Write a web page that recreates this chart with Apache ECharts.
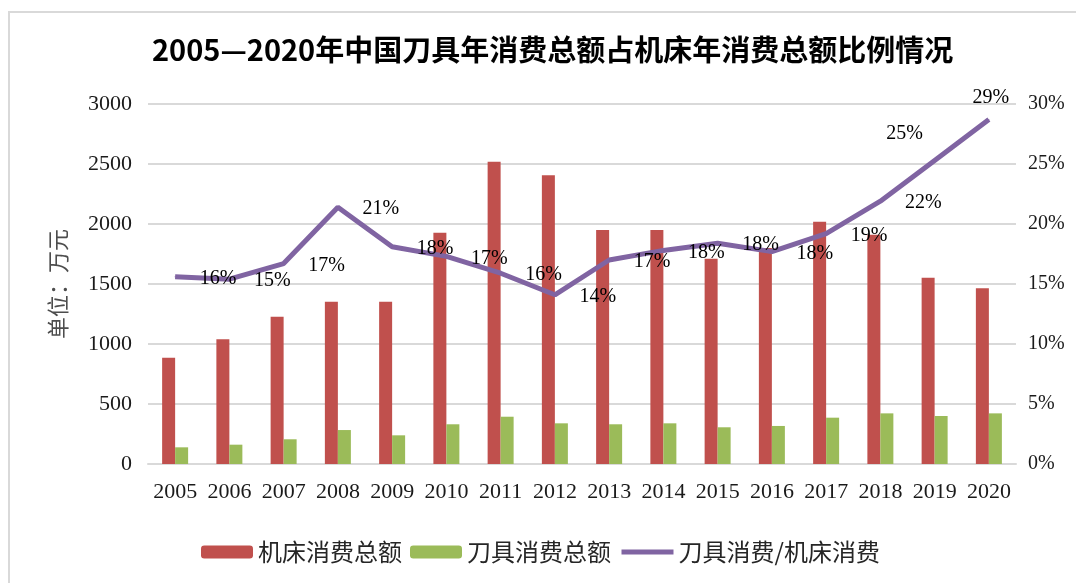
<!DOCTYPE html>
<html>
<head>
<meta charset="utf-8">
<script src="https://cdn.jsdelivr.net/npm/echarts@6/dist/echarts.min.js"></script>
<style>
  html, body { margin: 0; padding: 0; background: #fff; }
  #chart { width: 1076px; height: 583px; }
</style>
</head>
<body>
<div id="chart"></div>
<script>
// 年份
const years = ["2005", "2006", "2007", "2008", "2009", "2010", "2011", "2012",
  "2013", "2014", "2015", "2016", "2017", "2018", "2019", "2020"];
// 机床消费总额（万元）
const machineTotal = [886, 1040, 1228, 1353, 1353, 1928, 2519, 2406,
  1950, 1950, 1710, 1800, 2019, 1910, 1553, 1464];
// 刀具消费总额（万元）
const toolTotal = [139, 161, 206, 283, 239, 331, 394, 339,
  331, 339, 306, 317, 386, 422, 400, 422];
// 刀具消费/机床消费（%）
const ratio = [15.6, 15.4, 16.7, 21.4, 18.1, 17.3, 15.9, 14.1,
  17.0, 17.8, 18.4, 17.7, 19.2, 21.9, 25.3, 28.7];
const leftTicks = [0, 3000, 500];
const rightTicks = [0, 30, 5];

const serif = "'Liberation Serif', 'Noto Sans CJK SC', serif";
const cjk = "'Noto Sans CJK SC', sans-serif";

const chartDom = document.getElementById("chart");
const myChart = echarts.init(chartDom);

// labels in the source sit off to the right of their points
function labelShift(i) {
  if (i === ratio.length - 2) return [-30, -27];
  if (i === ratio.length - 1) return [2, -22];
  return [43, 2];
}

const option = {
  animation: false,
  title: {
    text: "2005—2020年中国刀具年消费总额占机床年消费总额比例情况",
    left: 147,
    top: 30,
    textStyle: {
      fontFamily: cjk,
      fontSize: 29,
      fontWeight: "bold",
      color: "#000",
    },
  },
  graphic: [
    {
      type: "rect",
      shape: { x: 9, y: 12, width: 1200, height: 700 },
      style: { fill: "none", stroke: "#d9d9d9", lineWidth: 2 },
      silent: true,
    },
  ],
  legend: {
    left: 196,
    top: 535,
    itemWidth: 52,
    itemHeight: 13,
    itemGap: 8,
    textStyle: { fontFamily: cjk, fontSize: 24, color: "#262626" },
    data: [
      { name: "机床消费总额" },
      { name: "刀具消费总额" },
      {
        name: "刀具消费/机床消费",
        itemStyle: { opacity: 0 },
        lineStyle: { width: 5, color: "#8064A2" },
      },
    ],
  },
  grid: {
    left: 148,
    right: 60,
    top: 104,
    bottom: 119,
    containLabel: false,
  },
  xAxis: {
    type: "category",
    data: years,
    axisLine: { lineStyle: { color: "#d9d9d9", width: 2 } },
    axisTick: { show: false },
    axisLabel: {
      fontFamily: serif,
      fontSize: 22,
      color: "#1a1a1a",
      margin: 17,
      interval: 0,
    },
  },
  yAxis: [
    {
      type: "value",
      min: leftTicks[0],
      max: leftTicks[1],
      interval: leftTicks[2],
      name: "单位：万元",
      nameLocation: "middle",
      nameRotate: 90,
      nameGap: 79,
      nameTextStyle: { fontFamily: cjk, fontSize: 22, color: "#4d4d4d" },
      axisLine: { show: false },
      axisTick: { show: false },
      axisLabel: {
        fontFamily: serif,
        fontSize: 22,
        color: "#1a1a1a",
        margin: 16,
        formatter: (v) => String(v),
      },
      splitLine: { lineStyle: { color: "#d9d9d9", width: 2 } },
    },
    {
      type: "value",
      min: rightTicks[0],
      max: rightTicks[1],
      interval: rightTicks[2],
      axisLine: { show: false },
      axisTick: { show: false },
      axisLabel: {
        fontFamily: serif,
        fontSize: 20,
        color: "#1a1a1a",
        margin: 12,
        formatter: "{value}%",
      },
      splitLine: { show: false },
    },
  ],
  series: [
    {
      name: "机床消费总额",
      type: "bar",
      data: machineTotal,
      barWidth: 13,
      barGap: "0%",
      itemStyle: { color: "#C0504D" },
    },
    {
      name: "刀具消费总额",
      type: "bar",
      data: toolTotal,
      barWidth: 13,
      itemStyle: { color: "#9BBB59" },
    },
    {
      name: "刀具消费/机床消费",
      type: "line",
      yAxisIndex: 1,
      symbol: "circle",
      symbolSize: 1,
      showSymbol: true,
      lineStyle: { width: 5, color: "#8064A2" },
      itemStyle: { color: "#8064A2" },
      label: {
        show: true,
        position: "inside",
        fontFamily: serif,
        fontSize: 20,
        color: "#000",
        formatter: (p) => Math.round(p.value) + "%",
      },
      data: ratio.map((v, i) => ({ value: v, label: { offset: labelShift(i) } })),
      z: 5,
    },
  ],
};

myChart.setOption(option);
</script>
</body>
</html>
